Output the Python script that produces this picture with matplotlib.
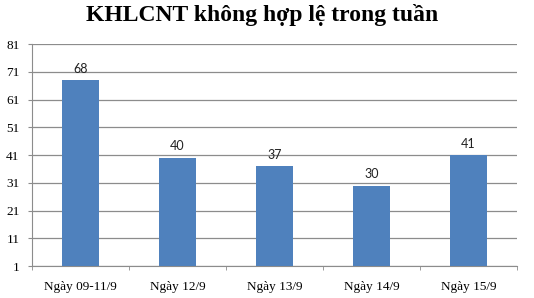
import matplotlib
matplotlib.use('Agg')
import matplotlib.pyplot as plt
import numpy as np

# data
categories = ['Ngày 09-11/9', 'Ngày 12/9', 'Ngày 13/9', 'Ngày 14/9', 'Ngày 15/9']
values = [68, 40, 37, 30, 41]
yticks = [1, 11, 21, 31, 41, 51, 61, 71, 81]

fig = plt.figure(figsize=(5.34, 2.98), dpi=100)
ax = fig.add_axes([0.06, 0.107, 0.908, 0.745])

x = np.arange(len(categories))
bars = ax.bar(x, values, width=0.39, color='#4F81BD', bottom=0, zorder=3)
for xi, v in zip(x, values):
    ax.text(xi, v + 2, str(v), ha='center', va='bottom', fontsize=9,
            family='Lato', color='#222222')

ax.set_ylim(1, 81)
ax.set_xlim(-0.5, len(categories) - 0.5)
ax.set_yticks(yticks)
ax.set_yticklabels([str(t) for t in yticks], family='Liberation Serif', fontsize=9.5)
ax.yaxis.grid(True, color='#8c8c8c', linewidth=0.9, zorder=0)

ax.set_xticks(x)
ax.set_xticklabels(categories, family='Liberation Serif', fontsize=9.5)
ax.set_xticks(np.arange(-0.5, len(categories)), minor=True)
ax.tick_params(axis='x', which='major', length=0, pad=11)
ax.tick_params(axis='x', which='minor', length=3, color='#8c8c8c')
ax.tick_params(axis='y', length=3, color='#8c8c8c', pad=6)

for s in ['top', 'right']:
    ax.spines[s].set_visible(False)
for s in ['left', 'bottom']:
    ax.spines[s].set_color('#8c8c8c')

fig.suptitle('KHLCNT không hợp lệ trong tuần', x=0.49, y=0.985, family='Liberation Serif',
             fontweight='bold', fontsize=17, va='top')

fig.savefig('out.png', dpi=100)
